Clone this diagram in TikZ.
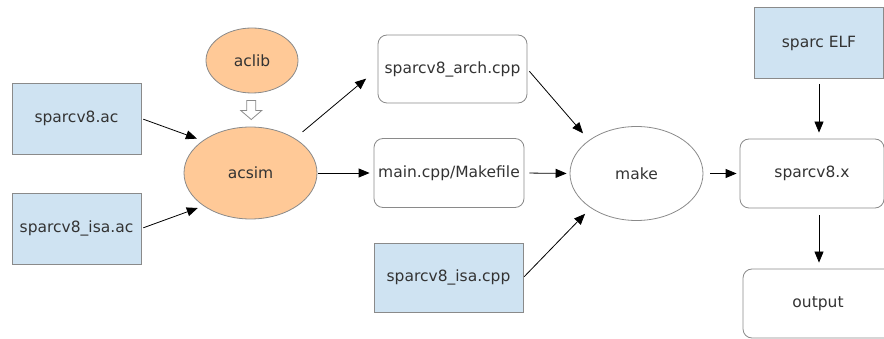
\documentclass[tikz,border=0pt]{standalone}
\usepackage{fontspec}
\setmainfont{DejaVu Sans}
\usetikzlibrary{arrows.meta,shapes.geometric,calc}

\definecolor{fileblue}{RGB}{207,227,242}
\definecolor{toolorange}{RGB}{255,201,151}
\definecolor{linegray}{RGB}{138,138,138}
\definecolor{txtgray}{RGB}{51,51,51}

\begin{document}
\begin{tikzpicture}[x=1pt, y=-1pt,
  every node/.style = {draw=linegray, line width=0.8pt, text=txtgray,
    font=\fontsize{15.5}{18}\selectfont},
  src/.style = {rectangle, fill=fileblue,
    minimum width=129pt, minimum height=71pt},
  gen/.style = {rectangle, rounded corners=9pt, fill=white,
    minimum width=149pt, minimum height=68pt},
  tool/.style = {ellipse, fill=toolorange},
  conn/.style = {-{Triangle[length=11pt,width=9pt]}, black, line width=0.8pt}]
  \useasboundingbox (0,0) rectangle (884,339);

  % inputs to the generator
  \node[src] (sac) at (76.5,118.5) {sparcv8.ac};
  \node[src] (sisa) at (76.5,228.5) {sparcv8\_isa.ac};
  \node[tool, minimum width=92pt, minimum height=65pt] (aclib) at (252,60.5) {aclib};
  \node[tool, minimum width=133pt, minimum height=92pt] (acsim) at (250.5,173) {acsim};
  \coordinate (libin) at ($(aclib.south)!0.5!(acsim.north)$);

  % generated sources
  \node[gen] (arch) at (452.5,69) {sparcv8\_arch.cpp};
  \node[gen, minimum width=150pt, minimum height=69pt] (mainmk) at (449,173) {main.cpp/Makefile};
  \node[src, minimum width=149pt, minimum height=69pt] (isacpp) at (448.5,277.5) {sparcv8\_isa.cpp};

  % build and run
  \node[ellipse, minimum width=133pt, minimum height=94pt] (make) at (636.5,173.5) {make};
  \node[src] (elf) at (819,43) {sparc ELF};
  \node[gen, minimum width=144pt, minimum height=69pt] (simx) at (812,173.5) {sparcv8.x};
  \node[gen, minimum width=150pt, minimum height=69pt] (out) at (818,303.5) {output};

  % hollow arrow: the library feeds acsim
  \draw[linegray, line width=0.8pt, fill=white] (libin) ++(-4.5,-9.5)
    -- ++(9,0) -- ++(0,10) -- ++(6,0) -- ++(-10.5,9)
    -- ++(-10.5,-9) -- ++(6,0) -- cycle;

  \draw[conn, shorten <=2pt, shorten >=6pt] (sac.east) -- (acsim.146);
  \draw[conn, shorten <=2pt, shorten >=6pt] (sisa.east) -- (acsim.215);
  \draw[conn, shorten <=10pt, shorten >=15pt] (acsim.38) -- (arch.west);
  \draw[conn, shorten <=1pt, shorten >=4pt] (acsim.east) -- (mainmk.west);
  \draw[conn, shorten <=3pt, shorten >=9pt] (arch.east) -- (make.145);
  \draw[conn, shorten <=5pt, shorten >=3pt] (mainmk.east) -- (make.west);
  \draw[conn, shorten <=1pt, shorten >=8pt] (isacpp.east) -- (make.217);
  \draw[conn, shorten <=7pt, shorten >=3pt] (make.east) -- (simx.west);
  \draw[conn, shorten <=5pt, shorten >=6pt] (elf.south) -- (elf.south |- simx.north);
  \draw[conn, shorten <=7pt, shorten >=6pt] (simx.south -| elf) -- (out.north -| elf);
\end{tikzpicture}
\end{document}
